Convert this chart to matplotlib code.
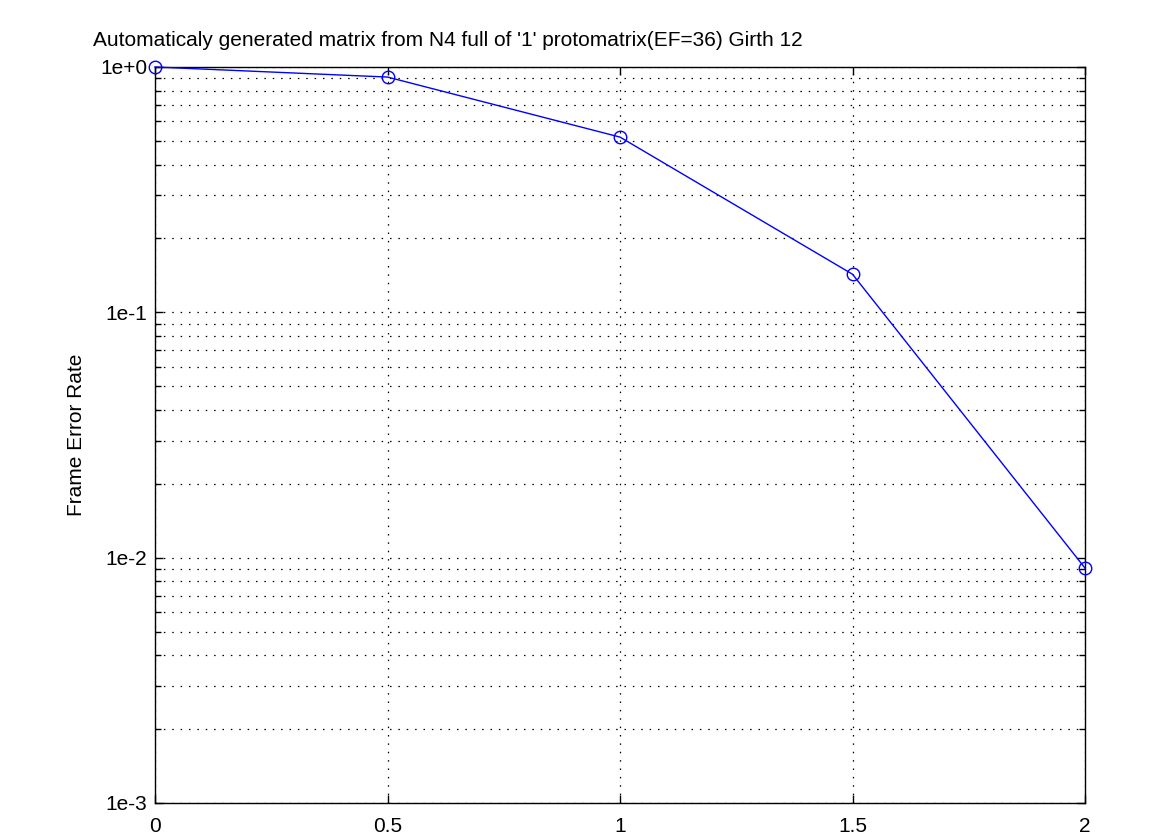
import numpy as np
import matplotlib.pyplot as plt
from matplotlib.ticker import LogLocator, NullFormatter

plt.rcParams['font.family'] = ['Liberation Sans', 'DejaVu Sans']

snr = [0, 0.5, 1, 1.5, 2]
fer = [1.0, 0.91, 0.518, 0.143, 0.00907]
xticks = [0, 0.5, 1, 1.5, 2]
xtick_labels = ['0', '0.5', '1', '1.5', '2']
yticks = [1e-3, 1e-2, 1e-1, 1e0]
ytick_labels = ['1e-3', '1e-2', '1e-1', '1e+0']

fig = plt.figure(figsize=(11.75, 8.35), dpi=100)
ax = fig.add_axes([155/1175, 32/835, 930/1175, 736/835])

ax.semilogy(snr, fer, color='blue', lw=1, marker='o', ms=9, mfc='none',
            mec='blue', mew=1, clip_on=False, zorder=5)

ax.set_xlim(0, 2)
ax.set_ylim(1e-3, 1)
ax.set_xticks(xticks)
ax.set_xticklabels(xtick_labels)
ax.set_yticks(yticks)
ax.set_yticklabels(ytick_labels)
ax.yaxis.set_minor_locator(LogLocator(base=10, subs=np.arange(2, 10)))
ax.yaxis.set_minor_formatter(NullFormatter())

dots = (0, (1.2, 5.5))
ax.grid(True, which='major', color='black', lw=0.9, linestyle=dots)
ax.grid(True, which='minor', axis='y', color='black', lw=0.9, linestyle=dots)

ax.tick_params(which='both', direction='in', top=True, right=True,
               labelsize=15, width=1)
ax.tick_params(which='major', length=6)
ax.tick_params(which='minor', length=4)
ax.tick_params(axis='y', which='major', pad=5.5)
ax.tick_params(axis='x', which='major', pad=10)
for s in ax.spines.values():
    s.set_linewidth(1)

ax.set_ylabel('Frame Error Rate', fontsize=15, labelpad=10)
fig.text(93/1175, 1 - 40/835, "Automaticaly generated matrix from N4 full of '1' protomatrix(EF=36) Girth 12",
         fontsize=15, ha='left', va='center')

fig.savefig('out.png', dpi=100)
